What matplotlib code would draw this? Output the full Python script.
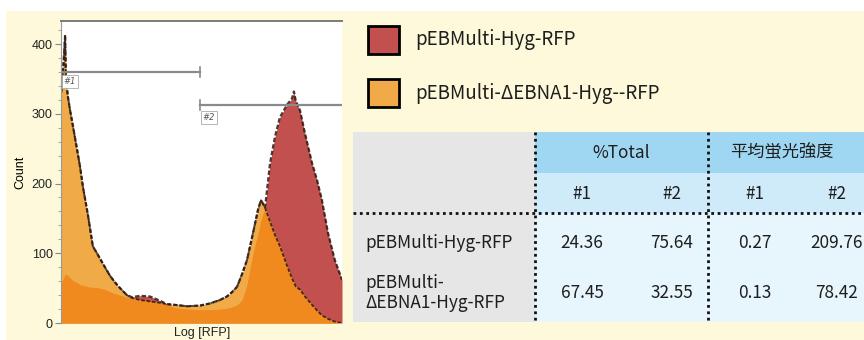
import numpy as np
import matplotlib
matplotlib.use('Agg')
import matplotlib.pyplot as plt
from matplotlib.patches import Rectangle

# histogram (channel on log RFP axis, cell count)
channel = [0, 4, 11, 15, 18, 25, 33, 40, 58, 69, 80, 98, 116, 131, 160, 178, 197, 215,
           240, 258, 288, 324, 360, 386, 415, 459, 506, 542, 579, 604, 622, 641, 659,
           677, 699, 717, 728, 743, 761, 779, 797, 823, 841, 848, 855, 870, 888, 914,
           932, 950, 972, 997, 1023]
count_dEBNA1 = [330, 340, 385, 413, 350, 325, 305, 290, 250, 225, 195, 155, 110, 100, 80,
                68, 58, 50, 40, 36, 33, 31, 29, 27, 26, 24, 25, 28, 33, 38, 44, 52, 70,
                90, 129, 162, 176, 165, 145, 126, 110, 82, 64, 58, 52, 48, 38, 26, 18,
                11, 6, 2, 0]
count_hyg = [58, 60, 66, 70, 70, 68, 65, 62, 58, 55, 54, 52, 51, 51, 48, 45, 42, 40, 37,
             37, 39, 38, 32, 26, 22, 20, 19, 19, 20, 21, 23, 26, 33, 55, 100, 128, 148,
             166, 229, 267, 295, 313, 322, 332, 318, 305, 272, 229, 205, 176, 129, 90, 62]

# gates
gate_names = ['#1', '#2']
gate_lo = [0, 506]
gate_hi = [506, 1023]
gate_y = [360, 313]

series_names = ['pEBMulti-Hyg-RFP', 'pEBMulti-\u0394EBNA1-Hyg--RFP']

# table
col_groups = ['%Total', '平均蛍光強度']
sub_cols = ['#1', '#2', '#1', '#2']
row_names = ['pEBMulti-Hyg-RFP', 'pEBMulti-\n\u0394EBNA1-Hyg-RFP']
table_vals = [['24.36', '75.64', '0.27', '209.76'],
              ['67.45', '32.55', '0.13', '78.42']]

RED = '#c2504f'
LORANGE = '#f0aa48'
DORANGE = '#f08a1e'
CREAM = '#fdf9da'
EDGE = '#2b1a10'
JP = ['Noto Sans CJK JP', 'DejaVu Sans']

W, H = 864, 340
fig = plt.figure(figsize=(W / 100, H / 100), dpi=100)
fig.patch.set_facecolor('white')

# background / legend / table drawn in pixel coords
bg = fig.add_axes([0, 0, 1, 1], zorder=0)
bg.set_xlim(0, W)
bg.set_ylim(H, 0)
bg.axis('off')
bg.add_patch(Rectangle((6, 11), W - 6, H - 11, fc=CREAM, ec='none'))

for i, (name, col) in enumerate(zip(series_names, [RED, LORANGE])):
    y0 = 26 + i * 53
    bg.add_patch(Rectangle((368, y0), 31, 28, fc=col, ec='black', lw=2))
    bg.text(415, y0 + 14, name, fontsize=13.5, family=JP, va='center', ha='left',
            color='#1e1e1e')

tx0, tx1, tx2, tr = 353, 535, 708, W
ty0, ty1, ty2, ty3 = 132, 173, 213, 322
bg.add_patch(Rectangle((tx0, ty0), tx1 - tx0, ty3 - ty0, fc='#e6e6e6', ec='none'))
bg.add_patch(Rectangle((tx1, ty0), tr - tx1, ty1 - ty0, fc='#9fd7f3', ec='none'))
bg.add_patch(Rectangle((tx1, ty1), tr - tx1, ty2 - ty1, fc='#cfeaf8', ec='none'))
bg.add_patch(Rectangle((tx1, ty2), tr - tx1, ty3 - ty2, fc='#e7f5fc', ec='none'))
dots = dict(color='#111111', lw=2, ls=(0, (1, 1.3)))
bg.plot([tx0, tr], [ty2, ty2], **dots)
bg.plot([tx1, tx1], [ty0, ty3], **dots)
bg.plot([tx2, tx2], [ty0, ty3], **dots)

group_x = [(tx1 + tx2) / 2, (tx2 + tr) / 2 - 4]
for gx, g in zip(group_x, col_groups):
    bg.text(gx, (ty0 + ty1) / 2, g, fontsize=12.4, family=JP, ha='center', va='center',
            color='#1e1e1e')
col_x = [582, 672, 755, 837]
for cx, s in zip(col_x, sub_cols):
    bg.text(cx, (ty1 + ty2) / 2 + 1, s, fontsize=12.4, family=JP, ha='center',
            va='center', color='#1e1e1e')
row_y = [243, 293]
for ry, rn, vals in zip(row_y, row_names, table_vals):
    bg.text(365, ry, rn, fontsize=12.4, family=JP, ha='left', va='center',
            color='#1e1e1e', linespacing=1.2)
    for cx, v in zip(col_x, vals):
        bg.text(cx, ry, v, fontsize=12.4, family=JP, ha='center', va='center',
                color='#1e1e1e')

# histogram
x = np.array(channel)
o = np.array(count_dEBNA1, dtype=float)
r = np.array(count_hyg, dtype=float)

ax = fig.add_axes([61 / W, 1 - 323 / H, 281 / W, 302 / H], zorder=2)
ax.set_facecolor('white')
ax.fill_between(x, 0, r, color=RED, lw=0)
ax.fill_between(x, 0, o, color=LORANGE, lw=0)
ax.fill_between(x, 0, np.minimum(r, o), color=DORANGE, lw=0)
ax.plot(x, np.maximum(r, o), color=EDGE, lw=1.6, ls=(0, (2, 1)), alpha=0.85)
ax.plot(x, o, color=EDGE, lw=1.3, ls=(0, (2, 1)), alpha=0.85)

for name, lo, hi, gy in zip(gate_names, gate_lo, gate_hi, gate_y):
    ax.plot([lo, hi], [gy, gy], color='#8a8a8a', lw=1.6)
ax.plot([506, 506], [353, 367], color='#8a8a8a', lw=1.2)
ax.plot([506, 506], [306, 320], color='#8a8a8a', lw=1.2)
ax.text(33, 346, gate_names[0], fontsize=6, style='italic', ha='center', va='center',
        color='#555555', bbox=dict(boxstyle='square,pad=0.25', fc='white', ec='#aaaaaa', lw=0.6))
ax.text(539, 295, gate_names[1], fontsize=6, style='italic', ha='center', va='center',
        color='#555555', bbox=dict(boxstyle='square,pad=0.25', fc='white', ec='#aaaaaa', lw=0.6))

ax.set_xlim(0, 1023)
ax.set_ylim(0, 433)
ax.set_xticks([])
ax.set_yticks(range(0, 401, 100))
ax.set_yticks(range(0, 433, 20), minor=True)
ax.tick_params(axis='y', which='major', length=4, color='#888888', labelsize=9,
               labelcolor='#222222', pad=2)
ax.tick_params(axis='y', which='minor', length=2, color='#999999')
for lab in ax.get_yticklabels():
    lab.set_family('Liberation Sans')
ax.spines['right'].set_visible(False)
ax.spines['bottom'].set_visible(False)
ax.spines['left'].set_color('#999999')
ax.spines['top'].set_color('#7a7a7a')
ax.spines['top'].set_linewidth(1.4)
ax.set_ylabel('Count', fontsize=9, family='Liberation Sans', labelpad=4)

fig.text(202 / W, 1 - 339 / H, 'Log [RFP]', fontsize=9, family='Liberation Sans',
         ha='center', va='bottom', color='#222222')

fig.savefig('out.png', dpi=100, facecolor=fig.get_facecolor())
